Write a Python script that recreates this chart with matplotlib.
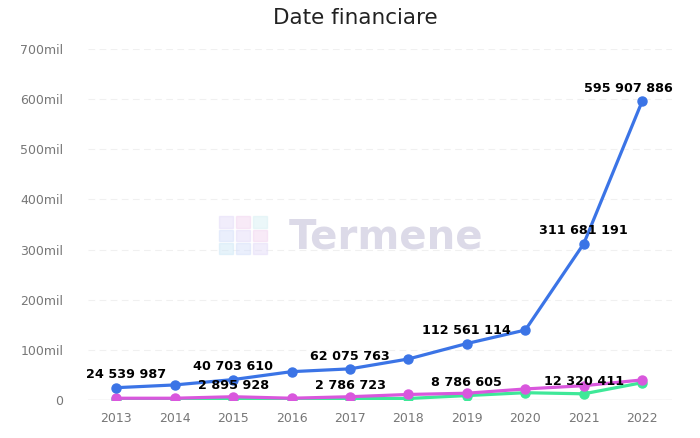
import matplotlib.pyplot as plt
from matplotlib.ticker import FuncFormatter
from matplotlib.patches import Rectangle

years = [2013, 2014, 2015, 2016, 2017, 2018, 2019, 2020, 2021, 2022]
blue_vals = [24539987, 30000000, 40703610, 56500000, 62075763, 81800000,
             112561114, 139500000, 311681191, 595907886]
green_vals = [2000000, 2000000, 2895928, 1500000, 2786723, 3000000,
              8786605, 14500000, 12320411, 34500000]
magenta_vals = [3500000, 3500000, 6500000, 3500000, 6500000, 11000000,
                13500000, 22000000, 28500000, 40000000]

blue_labels = [2013, 2015, 2017, 2019, 2021, 2022]
green_labels = [2015, 2017, 2019, 2021]

yticks = [0, 100e6, 200e6, 300e6, 400e6, 500e6, 600e6, 700e6]

fig = plt.figure(figsize=(7, 4.38), dpi=100)
ax = fig.add_axes([0.126, 0.0868, 0.834, 0.8014])

# watermark
fig.text(0.552, 0.458, "Termene", fontsize=29, fontweight="semibold",
         color="#dcdae8", ha="center", va="center", zorder=0)
cube_cols = ["#cfe8f7", "#d6e0fb", "#e4dcf8", "#f3d6f0", "#d8f0f4", "#e0e4fa"]
for i in range(3):
    for j in range(3):
        fig.patches.append(Rectangle((0.313 + i * 0.024, 0.42 + j * 0.03),
                                     0.02, 0.026, transform=fig.transFigure,
                                     color=cube_cols[(i + j) % len(cube_cols)],
                                     alpha=0.5, zorder=0))

ax.plot(years, green_vals, color="#3ee898", lw=2.3, marker="o", ms=6.5, zorder=3)
ax.plot(years, magenta_vals, color="#d957dd", lw=2.3, marker="o", ms=6.5, zorder=4)
ax.plot(years, blue_vals, color="#3b74e6", lw=2.3, marker="o", ms=6.5, zorder=5)

def put_label(x, y):
    dx = 0
    if x == years[0]:
        dx = 7
    if x == years[-1]:
        dx = -10
    ax.annotate(f"{y:,}".replace(",", " "), (x, y), xytext=(dx, 4.5),
                textcoords="offset points", ha="center", va="bottom",
                fontsize=9.2, fontweight="bold", color="black", zorder=6)

for yr in blue_labels:
    put_label(yr, blue_vals[years.index(yr)])
for yr in green_labels:
    put_label(yr, green_vals[years.index(yr)])

ax.set_xlim(2012.52, 2022.51)
ax.set_ylim(0, 700e6)
ax.set_xticks(years)
ax.set_yticks(yticks)
ax.yaxis.set_major_formatter(FuncFormatter(
    lambda v, p: "0" if v == 0 else f"{int(v / 1e6)}mil"))
ax.grid(axis="y", color="#f0f0f0", linestyle=(0, (6, 4)), lw=0.8)
ax.axhline(0, color="#dddddd", lw=1, zorder=1)
ax.set_axisbelow(True)
for s in ax.spines.values():
    s.set_visible(False)
ax.tick_params(length=0, colors="#777777", labelsize=9)
ax.tick_params(axis="y", pad=18)
ax.tick_params(axis="x", pad=9)
ax.patch.set_alpha(0)

fig.text(0.508, 0.958, "Date financiare", fontsize=15.5, ha="center", va="center",
         color="#222222")

fig.savefig("out.png", dpi=100)
